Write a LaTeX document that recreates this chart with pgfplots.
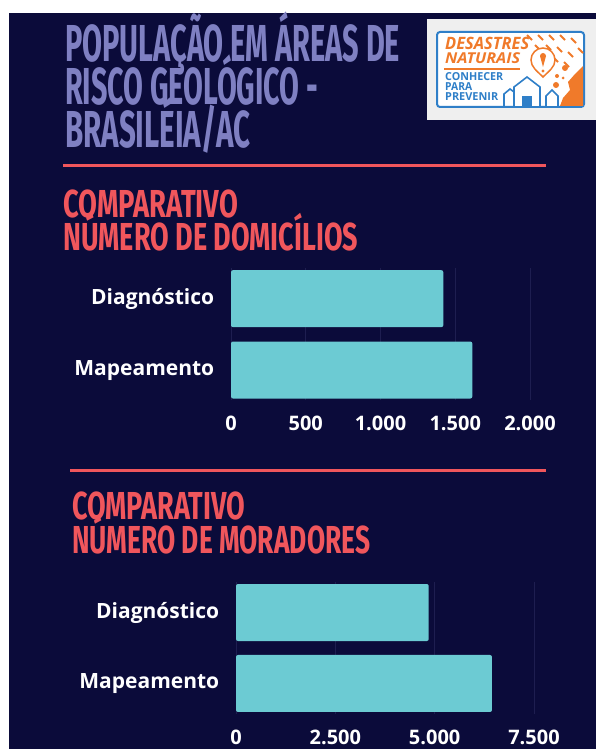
\documentclass[border=0pt]{standalone}
\usepackage{fontspec}
\setmainfont{Open Sans}
\newfontfamily\condfont{Fira Sans}
\usepackage{graphicx}
\usepackage{pgfplots}
\pgfplotsset{compat=1.18}
\definecolor{bg}{HTML}{0B0B3A}
\definecolor{lav}{HTML}{7F80C2}
\definecolor{accentred}{HTML}{F0565C}
\definecolor{barc}{HTML}{6CCBD3}
\definecolor{gridc}{HTML}{1E1E50}
\definecolor{lgrey}{HTML}{EFEFEF}
\definecolor{lblue}{HTML}{2F7FC8}
\definecolor{lorange}{HTML}{F07A2A}
\newcommand{\ttl}[2]{\resizebox{#1}{\height}{\condfont\bfseries\fontsize{52}{52}\selectfont #2}}
\newcommand{\sub}[2]{\resizebox{#1}{\height}{\condfont\bfseries\fontsize{39}{39}\selectfont #2}}
\begin{document}
\begin{tikzpicture}
\path[use as bounding box] (0pt,0pt) rectangle (596pt,-749pt);
\clip (0pt,0pt) rectangle (596pt,-749pt);
\fill[white] (0pt,0pt) rectangle (596pt,-749pt);
\fill[bg] (9pt,-13pt) rectangle (596pt,-749pt);
% title
\node[anchor=base west, inner sep=0pt, text=lav] at (65pt,-62pt) {\ttl{335pt}{POPULAÇÃO EM ÁREAS DE}};
\node[anchor=base west, inner sep=0pt, text=lav] at (65pt,-105pt) {\ttl{253pt}{RISCO GEOLÓGICO -}};
\node[anchor=base west, inner sep=0pt, text=lav] at (65pt,-148pt) {\ttl{185pt}{BRASILÉIA/AC}};
% logo
\fill[lgrey] (427pt,-19pt) rectangle (596pt,-120pt);
\draw[lblue, line width=2pt, rounded corners=3pt, fill=white] (437pt,-32pt) rectangle (584pt,-107pt);
\foreach \a/\b in {527/35,538/35,549/35,560/35,571/38,578/48,535/45,546/45,557/47,568/52,553/57,564/62} {
  \draw[lorange, line width=1.8pt] (\a pt,-\b pt) -- ++(5pt,-5pt);
}
\fill[lorange] (583pt,-66pt) -- (583pt,-106pt) -- (560pt,-106pt) -- (563pt,-98pt) -- (570pt,-90pt) -- (568pt,-82pt) -- (575pt,-74pt) -- cycle;
\fill[lorange] (565pt,-68pt) circle (3pt);
\fill[lorange] (557pt,-76pt) circle (2pt);
\fill[lorange] (556pt,-85pt) circle (3pt);
\fill[lorange] (563pt,-78pt) circle (1.5pt);
\draw[lorange, line width=1.5pt, fill=white] (543pt,-77pt) .. controls (537pt,-71pt) and (531pt,-67pt) .. (531pt,-60pt) arc[start angle=180, end angle=0, radius=12pt] .. controls (555pt,-67pt) and (549pt,-71pt) .. cycle;
\fill[lorange] (543pt,-67pt) -- (540pt,-56pt) arc[start angle=180, end angle=0, radius=3pt] -- cycle;
\fill[lorange] (543pt,-71pt) circle (1.7pt);
\draw[lblue, line width=1.6pt, fill=white] (504pt,-106pt) -- (504pt,-94pt) -- (510pt,-89pt) -- (514pt,-92pt);
\draw[lblue, line width=1.6pt, fill=white] (514pt,-106pt) -- (514pt,-87pt) -- (527pt,-77pt) -- (540pt,-87pt) -- (540pt,-106pt);
\draw[lblue, line width=1.6pt, fill=white] (546pt,-106pt) -- (546pt,-96pt) -- (552pt,-90pt) -- (558pt,-96pt) -- (558pt,-106pt);
\fill[lblue] (522pt,-106pt) rectangle (532pt,-96pt);
\node[anchor=base west, inner sep=0pt, text=lorange] at (445pt,-50pt) {\resizebox{84pt}{\height}{\bfseries\itshape\fontsize{17}{17}\selectfont DESASTRES}};
\node[anchor=base west, inner sep=0pt, text=lorange] at (445pt,-64pt) {\resizebox{75pt}{\height}{\bfseries\itshape\fontsize{15}{15}\selectfont NATURAIS}};
\draw[lorange, line width=1.3pt] (444pt,-69pt) -- (520pt,-69pt);
\node[anchor=base west, inner sep=0pt, text=lblue] at (445pt,-81pt) {\resizebox{58pt}{\height}{\bfseries\fontsize{11}{11}\selectfont CONHECER}};
\node[anchor=base west, inner sep=0pt, text=lblue] at (445pt,-91pt) {\resizebox{27pt}{\height}{\bfseries\fontsize{11}{11}\selectfont PARA}};
\node[anchor=base west, inner sep=0pt, text=lblue] at (445pt,-101pt) {\resizebox{53pt}{\height}{\bfseries\fontsize{11}{11}\selectfont PREVENIR}};
% section 1
\draw[accentred, line width=3pt] (63pt,-165pt) -- (546pt,-165pt);
\node[anchor=base west, inner sep=0pt, text=accentred] at (63pt,-217pt) {\sub{175pt}{COMPARATIVO}};
\node[anchor=base west, inner sep=0pt, text=accentred] at (63pt,-250pt) {\sub{295pt}{NÚMERO DE DOMICÍLIOS}};
\begin{axis}[at={(231pt,-400pt)}, anchor=south west, scale only axis,
  width=299pt, height=132pt, xmin=0, xmax=2000, ymin=-0.42, ymax=1.43,
  xbar, bar width=57pt,
  axis line style={draw=none}, major tick style={draw=none},
  xmajorgrids, ymajorgrids=false, grid style={gridc, line width=0.8pt},
  ytick={0,1}, yticklabels={Mapeamento,Diagnóstico},
  xtick={0,500,1000,1500,2000}, xticklabels={0,500,1.000,1.500,2.000},
  ticklabel style={text=white},
  xticklabel style={font=\bfseries\fontsize{20}{20}\selectfont, yshift=-12pt},
  yticklabel style={font=\bfseries\fontsize{21}{21}\selectfont, xshift=-9pt}]
\addplot[fill=barc, draw=none, rounded corners=2pt] coordinates {(1614,0) (1420,1)};
\end{axis}
% section 2
\draw[accentred, line width=3pt] (70pt,-470pt) -- (546pt,-470pt);
\node[anchor=base west, inner sep=0pt, text=accentred] at (72pt,-519pt) {\sub{173pt}{COMPARATIVO}};
\node[anchor=base west, inner sep=0pt, text=accentred] at (72pt,-553pt) {\sub{298pt}{NÚMERO DE MORADORES}};
\begin{axis}[at={(236pt,-714pt)}, anchor=south west, scale only axis,
  width=298pt, height=132pt, xmin=0, xmax=7500, ymin=-0.43, ymax=1.43,
  xbar, bar width=57pt,
  axis line style={draw=none}, major tick style={draw=none},
  xmajorgrids, ymajorgrids=false, grid style={gridc, line width=0.8pt},
  ytick={0,1}, yticklabels={Mapeamento,Diagnóstico},
  xtick={0,2500,5000,7500}, xticklabels={0,2.500,5.000,7.500},
  ticklabel style={text=white},
  xticklabel style={font=\bfseries\fontsize{20}{20}\selectfont, yshift=-12pt},
  yticklabel style={font=\bfseries\fontsize{21}{21}\selectfont, xshift=-9pt}]
\addplot[fill=barc, draw=none, rounded corners=2pt] coordinates {(6442,0) (4851,1)};
\end{axis}
\end{tikzpicture}
\end{document}
